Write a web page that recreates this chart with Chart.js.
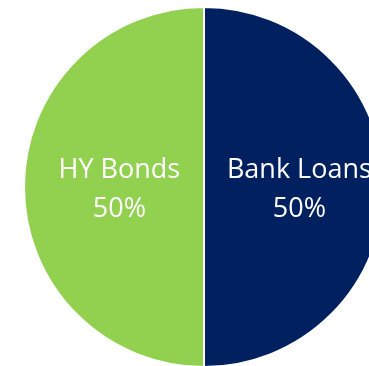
<!DOCTYPE html>
<html>
<head>
<meta charset="utf-8">
<script src="https://cdn.jsdelivr.net/npm/chart.js@4"></script>
<style>
  html, body { margin: 0; padding: 0; background: #fff; overflow: hidden; width: 369px; height: 366px; }
  #wrap { position: absolute; left: 23px; top: 6px; width: 362px; height: 362px; }
</style>
</head>
<body>
<div id="wrap"><canvas id="pie"></canvas></div>
<script>
// data
const categories = ['Bank Loans', 'HY Bonds'];
const shares = [50, 50];
const sliceColors = ['#002060', '#92D050'];

// slice labels drawn inside each slice, two lines: name and percent
const sliceLabels = {
  id: 'sliceLabels',
  afterDatasetsDraw(chart, args, opts) {
    const ctx = chart.ctx;
    const arcs = chart.getDatasetMeta(0).data;
    ctx.save();
    ctx.fillStyle = '#fff';
    ctx.font = '27px "Open Sans"';
    ctx.textAlign = 'center';
    ctx.textBaseline = 'middle';
    arcs.forEach(function (arc, i) {
      const p = arc.getProps(['x', 'y', 'startAngle', 'endAngle', 'outerRadius'], true);
      const mid = (p.startAngle + p.endAngle) / 2;
      const r = p.outerRadius * opts.radius[i];
      const cx = p.x + Math.cos(mid) * r;
      const cy = p.y + Math.sin(mid) * r + opts.shift;
      ctx.fillText(categories[i], cx, cy - opts.gap / 2);
      ctx.fillText(shares[i] + '%', cx, cy + opts.gap / 2);
    });
    ctx.restore();
  }
};

new Chart(document.getElementById('pie'), {
  type: 'pie',
  data: {
    labels: categories,
    datasets: [{
      data: shares,
      backgroundColor: sliceColors,
      borderColor: '#fff',
      borderWidth: 2
    }]
  },
  options: {
    responsive: true,
    maintainAspectRatio: false,
    animation: false,
    layout: { padding: 0 },
    plugins: {
      legend: { display: false },
      tooltip: { enabled: false },
      sliceLabels: { radius: [0.53, 0.47], gap: 39, shift: 3 }
    }
  },
  plugins: [sliceLabels]
});
</script>
</body>
</html>
